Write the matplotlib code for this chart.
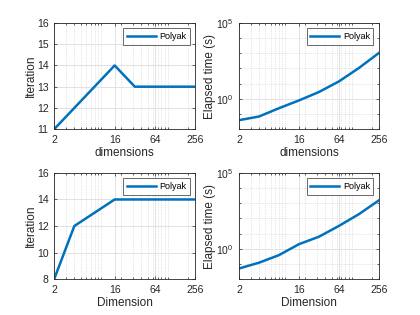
import numpy as np
import matplotlib
matplotlib.use("Agg")
import matplotlib.pyplot as plt
from matplotlib.ticker import FixedLocator, LogLocator, NullFormatter, LogFormatterMathtext

plt.rcParams['font.family'] = ['Liberation Sans', 'DejaVu Sans']
plt.rcParams['mathtext.fontset'] = 'custom'
plt.rcParams['mathtext.rm'] = 'Liberation Sans'

# Datos
dims = [2, 4, 8, 16, 32, 64, 128, 256]
iter_top = [11, 12, 13, 14, 13, 13, 13, 13]
time_top = [0.039, 0.068, 0.24, 0.78, 2.8, 14, 107, 1050]
iter_bot = [8, 12, 13, 14, 14, 14, 14, 14]
time_bot = [0.05, 0.12, 0.38, 2.0, 6.2, 32, 190, 1550]
xticks = [2, 16, 64, 256]

azul = '#0072BD'
gris = '#262626'

fig = plt.figure(figsize=(4.2, 3.15), dpi=100)
posiciones = [
    [0.129, 0.590, 0.336, 0.337],
    [0.569, 0.590, 0.333, 0.337],
    [0.129, 0.114, 0.336, 0.337],
    [0.569, 0.114, 0.333, 0.337],
]


def preparar_eje(ax, xlabel, ylabel):
    ax.set_xscale('log')
    ax.set_xlim(2, 256)
    ax.xaxis.set_major_locator(FixedLocator(xticks))
    ax.set_xticklabels([str(t) for t in xticks])
    ax.xaxis.set_minor_locator(LogLocator(base=10, subs=range(1, 10)))
    ax.xaxis.set_minor_formatter(NullFormatter())
    ax.tick_params(which='both', direction='in', top=True, right=True,
                   colors=gris, labelsize=7.5, length=2.5, width=0.5, pad=4)
    ax.tick_params(which='minor', length=1.5)
    for s in ax.spines.values():
        s.set_color(gris)
        s.set_linewidth(0.6)
    ax.grid(True, which='major', color='#dddddd', linewidth=0.6)
    ax.grid(True, which='minor', axis='x', color='#cccccc', linestyle=':', linewidth=0.5)
    ax.set_xlabel(xlabel, fontsize=8.5, color=gris, labelpad=2)
    ax.set_ylabel(ylabel, fontsize=8.5, color=gris, labelpad=0)
    ax.set_axisbelow(True)


def leyenda(ax):
    leg = ax.legend(loc='upper right', fontsize=6.5, frameon=True, fancybox=False,
                    handlelength=3.2, borderpad=0.4, handletextpad=0.4,
                    borderaxespad=0.6)
    leg.get_frame().set_edgecolor(gris)
    leg.get_frame().set_linewidth(0.6)


# Iteraciones (arriba)
ax1 = fig.add_axes(posiciones[0])
ax1.plot(dims, iter_top, color=azul, linewidth=1.8, label='Polyak')
preparar_eje(ax1, 'dimensions', 'Iteration')
ax1.set_ylim(11, 16)
ax1.set_yticks([11, 12, 13, 14, 15, 16])
leyenda(ax1)

# Tiempo (arriba)
ax2 = fig.add_axes(posiciones[1])
ax2.plot(dims, time_top, color=azul, linewidth=1.8, label='Polyak')
preparar_eje(ax2, 'dimensions', 'Elapsed time (s)')
ax2.set_yscale('log')
ax2.set_ylim(1e-2, 1e5)
ax2.yaxis.set_major_locator(FixedLocator([1, 1e5]))
ax2.yaxis.set_major_formatter(LogFormatterMathtext())
ax2.yaxis.set_minor_locator(FixedLocator([10.0 ** k for k in range(-2, 6)]))
ax2.yaxis.set_minor_formatter(NullFormatter())
ax2.grid(True, which='minor', axis='y', color='#cccccc', linestyle=':', linewidth=0.5)
leyenda(ax2)

# Iteraciones (abajo)
ax3 = fig.add_axes(posiciones[2])
ax3.plot(dims, iter_bot, color=azul, linewidth=1.8, label='Polyak')
preparar_eje(ax3, 'Dimension', 'Iteration')
ax3.set_ylim(8, 16)
ax3.set_yticks([8, 10, 12, 14, 16])
leyenda(ax3)

# Tiempo (abajo)
ax4 = fig.add_axes(posiciones[3])
ax4.plot(dims, time_bot, color=azul, linewidth=1.8, label='Polyak')
preparar_eje(ax4, 'Dimension', 'Elapsed time (s)')
ax4.set_yscale('log')
ax4.set_ylim(1e-2, 1e5)
ax4.yaxis.set_major_locator(FixedLocator([1, 1e5]))
ax4.yaxis.set_major_formatter(LogFormatterMathtext())
ax4.yaxis.set_minor_locator(FixedLocator([10.0 ** k for k in range(-2, 6)]))
ax4.yaxis.set_minor_formatter(NullFormatter())
ax4.grid(True, which='minor', axis='y', color='#cccccc', linestyle=':', linewidth=0.5)
leyenda(ax4)

fig.savefig('out.png', dpi=100)
